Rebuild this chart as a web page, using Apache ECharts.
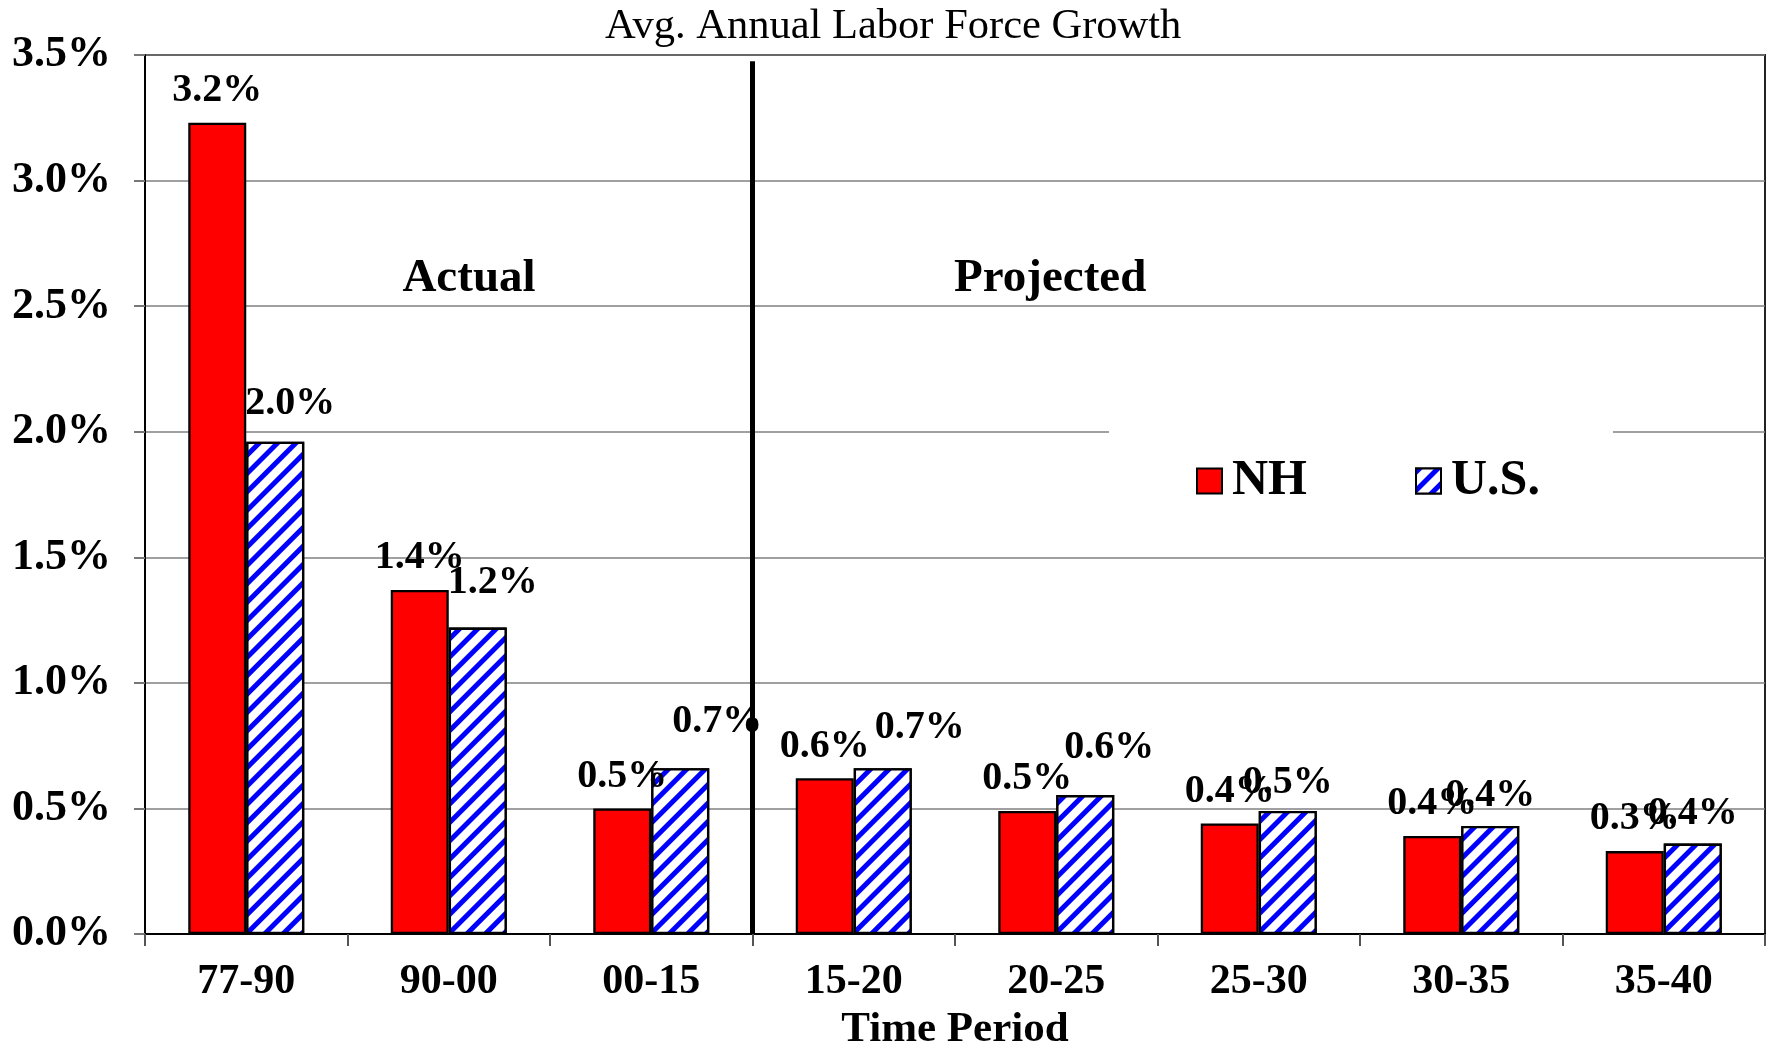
<!DOCTYPE html>
<html>
<head>
<meta charset="utf-8">
<script src="https://cdn.jsdelivr.net/npm/echarts@6/dist/echarts.min.js"></script>
<style>
html,body{margin:0;padding:0;background:#fff;}
#chart{width:1769px;height:1044px;}
</style>
</head>
<body>
<div id="chart"></div>
<script>
// ---- data ----
const categories = ['77-90', '90-00', '00-15', '15-20', '20-25', '25-30', '30-35', '35-40'];
const nhValues = [3.23, 1.37, 0.50, 0.62, 0.49, 0.44, 0.39, 0.33];
const usValues = [1.96, 1.22, 0.66, 0.66, 0.553, 0.49, 0.43, 0.36];
const seriesNames = ['NH', 'U.S.'];
const yTicks = { min: 0, max: 3.5, interval: 0.5 };
const titleText = 'Avg. Annual Labor Force Growth';
const xAxisName = 'Time Period';
const sectionNames = ['Actual', 'Projected'];

// ---- styling (label nudges, annotation placement in data space) ----
const usLabelOffsets = [[15, -8], [15, -15], [37, -17], [37, -11], [24, -17], [0, 2], [0, 0], [0, 0]];
const dividerAt = 3; // boundary between actual and projected categories
const sectionPos = [[1.6, 2.61], [4.47, 2.61]];

const SERIF = '"Liberation Serif", "Times New Roman", serif';
const fmt = v => v.toFixed(1) + '%';

const chart = echarts.init(document.getElementById('chart'), null, { renderer: 'canvas' });

const option = {
  backgroundColor: '#fff',
  animation: false,
  title: {
    text: titleText,
    left: 605,
    top: 5,
    padding: 0,
    textStyle: { fontFamily: SERIF, fontWeight: 'normal', fontSize: 42.5, color: '#000' }
  },
  legend: {
    data: seriesNames,
    left: 1109,
    top: 420,
    padding: [36, 73, 36, 87],
    backgroundColor: '#fff',
    icon: 'rect',
    itemWidth: 25,
    itemHeight: 25,
    itemGap: 108,
    textStyle: { fontFamily: SERIF, fontWeight: 'bold', fontSize: 50, color: '#000', padding: [0, 0, 0, 5] }
  },
  grid: {
    left: 145, right: 4, top: 55, bottom: 110,
    outerBoundsMode: 'none',
    containLabel: false,
    show: true, borderColor: '#222', borderWidth: 2
  },
  xAxis: [{
    type: 'category',
    data: categories,
    name: xAxisName,
    nameLocation: 'middle',
    nameGap: 70,
    nameTextStyle: { fontFamily: SERIF, fontWeight: 'bold', fontSize: 43, color: '#000' },
    axisLine: { lineStyle: { color: '#000', width: 2 } },
    axisTick: { show: true, length: 12, interval: 0, lineStyle: { color: '#555', width: 2 } },
    axisLabel: { margin: 27, interval: 0, fontFamily: SERIF, fontWeight: 'bold', fontSize: 42, color: '#000' },
    splitLine: { show: false }
  }, {
    type: 'value',
    show: false,
    min: 0,
    max: categories.length
  }],
  yAxis: {
    type: 'value',
    min: yTicks.min,
    max: yTicks.max,
    interval: yTicks.interval,
    axisLine: { show: true, lineStyle: { color: '#000', width: 2 } },
    axisTick: { show: true, length: 11, lineStyle: { color: '#777', width: 2 } },
    axisLabel: { margin: 34, fontFamily: SERIF, fontWeight: 'bold', fontSize: 44, color: '#000', formatter: v => v.toFixed(1) + '%' },
    splitLine: { show: true, lineStyle: { color: '#808080', width: 1.5 } }
  },
  series: [{
    name: seriesNames[0],
    type: 'bar',
    data: nhValues,
    barWidth: 58,
    barGap: '0%',
    itemStyle: { color: '#ff0000', borderColor: '#000', borderWidth: 2.3 },
    label: {
      show: true, position: 'top', distance: 12,
      fontFamily: SERIF, fontWeight: 'bold', fontSize: 40, color: '#000',
      formatter: p => fmt(p.value)
    },
    z: 3
  }, {
    name: seriesNames[1],
    type: 'bar',
    data: usValues.map((v, i) => ({ value: v, label: { offset: usLabelOffsets[i] } })),
    barWidth: 58,
    barGap: '0%',
    itemStyle: {
      color: '#ffffff', borderColor: '#000', borderWidth: 2.3,
      decal: {
        symbol: 'rect',
        symbolSize: 1,
        color: '#0000ff',
        backgroundColor: '#ffffff',
        dashArrayX: [1, 0],
        dashArrayY: [5, 8],
        rotation: -Math.PI / 4
      }
    },
    label: {
      show: true, position: 'top', distance: 10,
      fontFamily: SERIF, fontWeight: 'bold', fontSize: 40, color: '#000',
      formatter: p => fmt(p.value)
    },
    z: 3
  }, {
    name: 'annotations',
    type: 'line',
    xAxisIndex: 1,
    yAxisIndex: 0,
    data: [],
    silent: true,
    markLine: {
      silent: true,
      symbol: 'none',
      label: { show: false },
      lineStyle: { color: '#000', width: 5, type: 'solid' },
      data: [[{ coord: [dividerAt, yTicks.max - 0.025] }, { coord: [dividerAt, yTicks.min] }]],
      z: 10
    },
    markPoint: {
      silent: true,
      symbol: 'rect',
      symbolSize: 1,
      itemStyle: { color: 'rgba(0,0,0,0)' },
      label: {
        show: true, position: 'inside', formatter: '{b}',
        fontFamily: SERIF, fontWeight: 'bold', fontSize: 47, color: '#000'
      },
      data: sectionNames.map((n, i) => ({ name: n, coord: sectionPos[i] }))
    }
  }]
};

chart.setOption(option);
</script>
</body>
</html>
